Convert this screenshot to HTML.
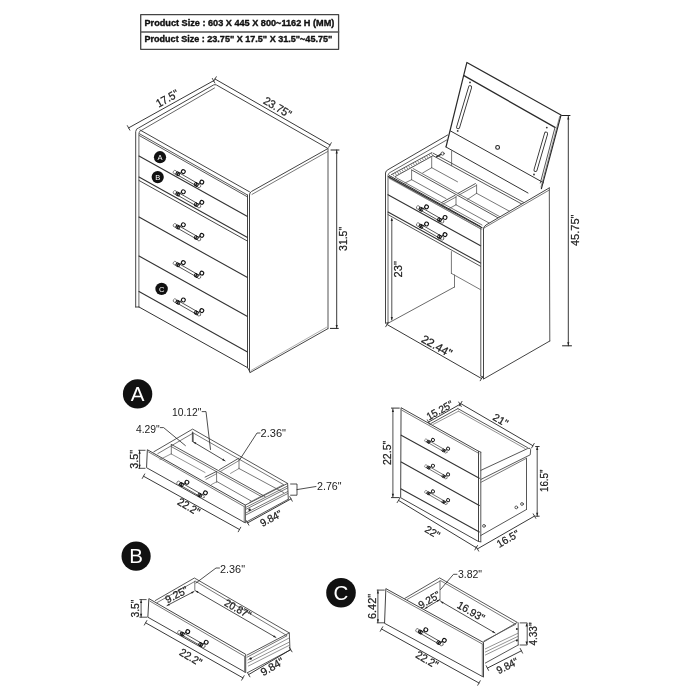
<!DOCTYPE html>
<html><head><meta charset="utf-8"><style>
html,body{margin:0;padding:0;background:#fff;}
svg{display:block;will-change:transform;}
text{font-family:"Liberation Sans",sans-serif;}
</style></head><body>
<svg width="700" height="700" viewBox="0 0 700 700" stroke-linecap="round" stroke-linejoin="round">
<defs>
<g id="hd"><g transform="rotate(29.8)">
<circle cx="-3.1" cy="0.2" r="1.8" stroke="#666" stroke-width="0.8" fill="#fff"/>
<circle cx="24.4" cy="0.2" r="1.8" stroke="#666" stroke-width="0.8" fill="#fff"/>
<line x1="0" y1="-1.35" x2="21.3" y2="-1.35" stroke="#333" stroke-width="0.75"/>
<line x1="0" y1="1.35" x2="21.3" y2="1.35" stroke="#333" stroke-width="0.75"/>
<ellipse cx="-0.6" cy="0.2" rx="1.2" ry="1.7" stroke="#111" stroke-width="0.9" fill="none"/>
<ellipse cx="0.9" cy="0.2" rx="1.2" ry="1.7" stroke="#111" stroke-width="0.9" fill="none"/>
<ellipse cx="20.7" cy="0.2" rx="1.2" ry="1.7" stroke="#111" stroke-width="0.9" fill="none"/>
<ellipse cx="22.2" cy="0.2" rx="1.2" ry="1.7" stroke="#111" stroke-width="0.9" fill="none"/>
<circle cx="3.8" cy="-4.5" r="1.9" stroke="#111" stroke-width="1.1" fill="#fff"/>
<circle cx="25.1" cy="-4.5" r="1.9" stroke="#111" stroke-width="1.1" fill="#fff"/>
<line x1="1.8" y1="-1.6" x2="2.6" y2="-3.2" stroke="#222" stroke-width="0.8"/>
<line x1="23.1" y1="-1.6" x2="23.9" y2="-3.2" stroke="#222" stroke-width="0.8"/>
</g></g>
</defs>
<rect width="700" height="700" fill="#fff"/>
<rect x="140.7" y="14.7" width="197.9" height="34.6" fill="none" stroke="#444" stroke-width="1.3"/>
<line x1="140.7" y1="32" x2="338.6" y2="32" stroke="#555" stroke-width="1.5"/>
<g stroke="#111" stroke-width="0.35">
<text x="144.5" y="25.9" font-size="8.3" text-anchor="start" font-weight="bold" fill="#111" font-family="Liberation Sans, sans-serif" textLength="189.8" lengthAdjust="spacingAndGlyphs">Product Size : 603 X 445 X 800~1162 H (MM)</text>
<text x="144.5" y="42.2" font-size="8.3" text-anchor="start" font-weight="bold" fill="#111" font-family="Liberation Sans, sans-serif" textLength="187.8" lengthAdjust="spacingAndGlyphs">Product Size : 23.75&quot; X 17.5&quot; X 31.5&quot;~45.75&quot;</text>
</g>
<line x1="128.6" y1="127.9" x2="213.6" y2="80.7" stroke="#222" stroke-width="0.9"/>
<line x1="127.34" y1="125.63" x2="129.86" y2="130.17" stroke="#333" stroke-width="0.9"/>
<line x1="212.34" y1="78.43" x2="214.86" y2="82.97" stroke="#333" stroke-width="0.9"/>
<line x1="215" y1="79" x2="330" y2="145" stroke="#222" stroke-width="0.9"/>
<line x1="216.29" y1="76.74" x2="213.71" y2="81.26" stroke="#333" stroke-width="0.9"/>
<line x1="331.29" y1="142.74" x2="328.71" y2="147.26" stroke="#333" stroke-width="0.9"/>
<text x="158.7" y="107.8" font-size="11.5" fill="#222" stroke="#222" stroke-width="0.25" font-family="Liberation Sans, sans-serif" transform="rotate(-29.33 158.7 107.8)" textLength="24.09" lengthAdjust="spacingAndGlyphs">17.5&quot;</text>
<text x="262.4" y="103" font-size="11.5" fill="#222" stroke="#222" stroke-width="0.25" font-family="Liberation Sans, sans-serif" transform="rotate(30.77 262.4 103)" textLength="30.49" lengthAdjust="spacingAndGlyphs">23.75&quot;</text>
<line x1="336.7" y1="150" x2="336.7" y2="328.4" stroke="#222" stroke-width="0.9"/>
<line x1="331" y1="150" x2="339" y2="150" stroke="#222" stroke-width="1"/>
<line x1="330.4" y1="328.4" x2="338.3" y2="328.4" stroke="#222" stroke-width="1"/>
<text x="346.9" y="250.9" font-size="11.5" fill="#222" stroke="#222" stroke-width="0.25" font-family="Liberation Sans, sans-serif" transform="rotate(-90.00 346.9 250.9)" textLength="24.00" lengthAdjust="spacingAndGlyphs">31.5&quot;</text>
<path d="M135.7,307 L135.7,131.5 Q136,128.6 138.5,128 L213.5,85 Q215,84.3 216.5,85 L328,148.5 L251.6,191.4 Q249.5,192.6 249.5,195 L249.5,372 " stroke="#444" stroke-width="1" fill="none"/>
<path d="M138.9,307 L138.9,133.4 Q139,131 141,130.6 L214.5,88" stroke="#555" stroke-width="0.9" fill="none"/>
<line x1="135.7" y1="307" x2="138.9" y2="307" stroke="#444" stroke-width="1"/>
<line x1="140" y1="130" x2="249.5" y2="191.8" stroke="#444" stroke-width="1"/>
<line x1="139.4" y1="133.7" x2="247.5" y2="195" stroke="#444" stroke-width="0.9"/>
<line x1="139.4" y1="135.6" x2="247.5" y2="196.9" stroke="#444" stroke-width="0.9"/>
<line x1="327.5" y1="151.6" x2="252" y2="194.4" stroke="#555" stroke-width="0.8"/>
<line x1="328" y1="148.5" x2="328" y2="328.7" stroke="#555" stroke-width="1"/>
<line x1="247.5" y1="195" x2="247.5" y2="367.5" stroke="#444" stroke-width="1"/>
<line x1="250.2" y1="372.5" x2="327.8" y2="328.7" stroke="#444" stroke-width="1"/>
<line x1="247.5" y1="367.5" x2="250" y2="372" stroke="#444" stroke-width="1"/>
<line x1="139" y1="156" x2="247.5" y2="216.6" stroke="#333" stroke-width="1.1"/>
<line x1="139" y1="177" x2="247.5" y2="237.6" stroke="#333" stroke-width="1.1"/>
<line x1="139" y1="180.5" x2="247.5" y2="241.1" stroke="#333" stroke-width="0.9"/>
<line x1="139" y1="217" x2="247.5" y2="277.6" stroke="#333" stroke-width="1.1"/>
<line x1="139" y1="256" x2="247.5" y2="316.6" stroke="#333" stroke-width="1.1"/>
<line x1="139" y1="291.5" x2="247.5" y2="352.1" stroke="#333" stroke-width="1.1"/>
<line x1="139" y1="307" x2="247.5" y2="367.6" stroke="#333" stroke-width="1"/>
<use href="#hd" transform="translate(177.8 173.6) scale(1.0)"/>
<use href="#hd" transform="translate(177.8 193.8) scale(1.0)"/>
<use href="#hd" transform="translate(177.8 226.8) scale(1.0)"/>
<use href="#hd" transform="translate(177.8 264.6) scale(1.0)"/>
<use href="#hd" transform="translate(177.8 302) scale(1.0)"/>
<circle cx="160" cy="157.2" r="6.1" fill="#111"/>
<text x="160" y="159.86249999999998" font-size="7.5" text-anchor="middle" fill="#fff" font-family="Liberation Sans, sans-serif">A</text>
<circle cx="157.7" cy="177.1" r="6.1" fill="#111"/>
<text x="157.7" y="179.7625" font-size="7.5" text-anchor="middle" fill="#fff" font-family="Liberation Sans, sans-serif">B</text>
<circle cx="161.6" cy="288.9" r="6.2" fill="#111"/>
<text x="161.6" y="291.5625" font-size="7.5" text-anchor="middle" fill="#fff" font-family="Liberation Sans, sans-serif">C</text>
<path d="M446,147 L466.9,62.4 L561,115 L541.4,188.6" stroke="#2a2a2a" stroke-width="1.2" fill="none"/>
<line x1="464" y1="75.6" x2="555" y2="127.4" stroke="#2a2a2a" stroke-width="1.3"/>
<line x1="450.4" y1="130.9" x2="543.5" y2="182.7" stroke="#333" stroke-width="1"/>
<line x1="446" y1="147" x2="528" y2="193" stroke="#333" stroke-width="1"/>
<path d="M555,127.4 L540.3,183" stroke="#444" stroke-width="0.9" fill="none"/>
<path d="M559.7,116.3 L541,187" stroke="#666" stroke-width="0.7" fill="none"/>
<path d="M470.1,87.2 L458.1,127.2" stroke="#333" stroke-width="4.0" fill="none"/>
<path d="M470.1,87.2 L458.1,127.2" stroke="#fff" stroke-width="2.2" fill="none"/>
<path d="M546.1,133.6 L535.5,170" stroke="#333" stroke-width="4.0" fill="none"/>
<path d="M546.1,133.6 L535.5,170" stroke="#fff" stroke-width="2.2" fill="none"/>
<circle cx="470" cy="82.4" r="0.9" fill="#333"/><circle cx="457.7" cy="130.9" r="0.9" fill="#333"/>
<circle cx="546.8" cy="127.6" r="0.9" fill="#333"/><circle cx="534" cy="174.5" r="0.9" fill="#333"/>
<circle cx="497.6" cy="147.4" r="1.9" fill="none" stroke="#222" stroke-width="1.1"/>
<path d="M385.5,323 L385.5,173 Q385.8,170.6 388,169.7 L447.6,135" stroke="#444" stroke-width="1.0" fill="none"/>
<path d="M388,323 L388,175.5 Q388.2,173.2 390,172.5 L447.7,139.4" stroke="#555" stroke-width="0.9" fill="none"/>
<line x1="385.5" y1="323" x2="388" y2="323" stroke="#444" stroke-width="1"/>
<line x1="451.6" y1="150.9" x2="451.6" y2="165.7" stroke="#555" stroke-width="0.8"/>
<line x1="389.4" y1="175.6" x2="480.5" y2="226.5" stroke="#333" stroke-width="1"/>
<line x1="389.4" y1="178" x2="480.5" y2="228.8" stroke="#555" stroke-width="0.8"/>
<line x1="388" y1="194.7" x2="480.6" y2="245.8" stroke="#333" stroke-width="1.1"/>
<line x1="388" y1="212" x2="480.6" y2="263.1" stroke="#333" stroke-width="1.1"/>
<line x1="388" y1="214.6" x2="480.6" y2="266.3" stroke="#444" stroke-width="0.9"/>
<use href="#hd" transform="translate(421 208.9) scale(1.0)"/>
<use href="#hd" transform="translate(421 226) scale(1.0)"/>
<line x1="388.4" y1="176.6" x2="482" y2="227.8" stroke="#333" stroke-width="1.2"/>
<line x1="389" y1="178.4" x2="482" y2="229.4" stroke="#777" stroke-width="0.6"/>
<line x1="395.3" y1="177.2" x2="482" y2="225" stroke="#555" stroke-width="0.8"/>
<line x1="391.4" y1="174.6" x2="431.7" y2="152.7" stroke="#444" stroke-width="0.9"/>
<line x1="395.3" y1="176.5" x2="433" y2="155.7" stroke="#444" stroke-width="0.9"/>
<line x1="392.8" y1="174.4" x2="394.1" y2="176.2" stroke="#555" stroke-width="0.7"/>
<line x1="395.06" y1="173.16" x2="396.36" y2="174.96" stroke="#555" stroke-width="0.7"/>
<line x1="397.32" y1="171.93" x2="398.62" y2="173.73" stroke="#555" stroke-width="0.7"/>
<line x1="399.58" y1="170.69" x2="400.88" y2="172.49" stroke="#555" stroke-width="0.7"/>
<line x1="401.84" y1="169.46" x2="403.14" y2="171.26" stroke="#555" stroke-width="0.7"/>
<line x1="404.09" y1="168.22" x2="405.39" y2="170.02" stroke="#555" stroke-width="0.7"/>
<line x1="406.35" y1="166.99" x2="407.65" y2="168.79" stroke="#555" stroke-width="0.7"/>
<line x1="408.61" y1="165.75" x2="409.91" y2="167.55" stroke="#555" stroke-width="0.7"/>
<line x1="410.87" y1="164.52" x2="412.17" y2="166.32" stroke="#555" stroke-width="0.7"/>
<line x1="413.13" y1="163.28" x2="414.43" y2="165.08" stroke="#555" stroke-width="0.7"/>
<line x1="415.39" y1="162.05" x2="416.69" y2="163.85" stroke="#555" stroke-width="0.7"/>
<line x1="417.65" y1="160.81" x2="418.95" y2="162.61" stroke="#555" stroke-width="0.7"/>
<line x1="419.91" y1="159.58" x2="421.21" y2="161.38" stroke="#555" stroke-width="0.7"/>
<line x1="422.16" y1="158.34" x2="423.46" y2="160.14" stroke="#555" stroke-width="0.7"/>
<line x1="424.42" y1="157.11" x2="425.72" y2="158.91" stroke="#555" stroke-width="0.7"/>
<line x1="426.68" y1="155.87" x2="427.98" y2="157.67" stroke="#555" stroke-width="0.7"/>
<line x1="428.94" y1="154.64" x2="430.24" y2="156.44" stroke="#555" stroke-width="0.7"/>
<line x1="431.2" y1="153.4" x2="432.5" y2="155.2" stroke="#555" stroke-width="0.7"/>
<line x1="433" y1="153.1" x2="535" y2="208.6" stroke="#444" stroke-width="0.9"/>
<line x1="433" y1="155.7" x2="535" y2="211.2" stroke="#444" stroke-width="0.9"/>
<line x1="431.7" y1="157.5" x2="431.7" y2="167.7" stroke="#555" stroke-width="0.8"/>
<line x1="431.7" y1="167.7" x2="457.5" y2="181.8" stroke="#555" stroke-width="0.8"/>
<line x1="422.7" y1="172.9" x2="431.7" y2="167.7" stroke="#555" stroke-width="0.8"/>
<line x1="411.6" y1="169.9" x2="520" y2="230" stroke="#444" stroke-width="0.9"/>
<line x1="413.2" y1="168.6" x2="520" y2="227.9" stroke="#555" stroke-width="0.8"/>
<line x1="411.6" y1="170.2" x2="411.6" y2="179.7" stroke="#555" stroke-width="0.8"/>
<line x1="411.6" y1="179.7" x2="446" y2="198.6" stroke="#555" stroke-width="0.8"/>
<line x1="404.7" y1="183.1" x2="411.6" y2="179.7" stroke="#555" stroke-width="0.8"/>
<line x1="456" y1="204.8" x2="500" y2="229" stroke="#555" stroke-width="0.8"/>
<line x1="441.6" y1="202.6" x2="455.2" y2="195.2" stroke="#444" stroke-width="0.9"/>
<line x1="442.8" y1="204.2" x2="456.2" y2="196.9" stroke="#555" stroke-width="0.8"/>
<line x1="456" y1="196.6" x2="456" y2="204.8" stroke="#555" stroke-width="0.8"/>
<line x1="449.5" y1="208.4" x2="456" y2="204.8" stroke="#555" stroke-width="0.8"/>
<line x1="458" y1="193.4" x2="475.4" y2="183.6" stroke="#444" stroke-width="0.9"/>
<line x1="459" y1="195" x2="476.4" y2="185.4" stroke="#555" stroke-width="0.8"/>
<line x1="476.6" y1="184.8" x2="476.6" y2="193.3" stroke="#555" stroke-width="0.8"/>
<line x1="467.6" y1="199.3" x2="476.6" y2="193.3" stroke="#555" stroke-width="0.8"/>
<line x1="476.6" y1="193.3" x2="520" y2="217" stroke="#555" stroke-width="0.8"/>
<line x1="436.5" y1="156.8" x2="442.5" y2="153.4" stroke="#333" stroke-width="1.5"/>
<circle cx="442.6" cy="153.6" r="1.6" fill="#fff" stroke="#333" stroke-width="0.8"/>
<path d="M549.3,187.9 L486,225 Q483.5,226.5 483.5,229 L483.5,379 L550,341 Z" stroke="#fff" stroke-width="0.1" fill="#fff"/>
<path d="M549.3,187.9 L486,225 Q483.5,226.5 483.5,229 L483.5,378.5" stroke="#444" stroke-width="1.0" fill="none"/>
<line x1="549.3" y1="190" x2="484" y2="228" stroke="#555" stroke-width="0.8"/>
<line x1="549.3" y1="187.9" x2="549.8" y2="341" stroke="#555" stroke-width="1"/>
<line x1="480.8" y1="228" x2="480.8" y2="376" stroke="#444" stroke-width="0.9"/>
<line x1="483.6" y1="379" x2="549.8" y2="341" stroke="#444" stroke-width="1"/>
<line x1="480.8" y1="376" x2="483.5" y2="378.5" stroke="#444" stroke-width="1"/>
<line x1="391.8" y1="219" x2="391.8" y2="320" stroke="#222" stroke-width="0.8"/>
<line x1="451.4" y1="251.6" x2="451.4" y2="273.4" stroke="#555" stroke-width="0.8"/>
<line x1="454.5" y1="275" x2="454.5" y2="287" stroke="#555" stroke-width="0.8"/>
<line x1="451.4" y1="273.4" x2="480.6" y2="289.7" stroke="#555" stroke-width="0.8"/>
<line x1="454.5" y1="287" x2="388.5" y2="323" stroke="#444" stroke-width="0.8"/>
<text x="402.1" y="277.4" font-size="11.5" fill="#222" stroke="#222" stroke-width="0.25" font-family="Liberation Sans, sans-serif" transform="rotate(-90.00 402.1 277.4)" textLength="16.30" lengthAdjust="spacingAndGlyphs">23&quot;</text>
<line x1="387" y1="324.5" x2="481.5" y2="378.5" stroke="#222" stroke-width="0.9"/>
<line x1="388.29" y1="322.24" x2="385.71" y2="326.76" stroke="#333" stroke-width="0.9"/>
<line x1="482.79" y1="376.24" x2="480.21" y2="380.76" stroke="#333" stroke-width="0.9"/>
<text x="420.5" y="341.4" font-size="11.5" fill="#222" stroke="#222" stroke-width="0.25" font-family="Liberation Sans, sans-serif" transform="rotate(29.36 420.5 341.4)" textLength="33.04" lengthAdjust="spacingAndGlyphs">22.44&quot;</text>
<line x1="568.3" y1="116" x2="568.3" y2="345.8" stroke="#222" stroke-width="0.9"/>
<line x1="561.6" y1="115.5" x2="570" y2="115.5" stroke="#222" stroke-width="1"/>
<line x1="562.5" y1="345.8" x2="571.5" y2="345.8" stroke="#222" stroke-width="1"/>
<text x="579.1" y="246" font-size="11.5" fill="#222" stroke="#222" stroke-width="0.25" font-family="Liberation Sans, sans-serif" transform="rotate(-90.00 579.1 246)" textLength="31.50" lengthAdjust="spacingAndGlyphs">45.75&quot;</text>
<circle cx="137.6" cy="393.9" r="14.7" fill="#111"/>
<text x="137.6" y="401.17749999999995" font-size="20.5" text-anchor="middle" fill="#fff" font-family="Liberation Sans, sans-serif">A</text>
<path d="M147.7,449.9 L245.3,505.1 L245.3,522.9 L146.9,467.9 Z" stroke="#444" stroke-width="1" fill="none"/>
<line x1="148.6" y1="452" x2="244.2" y2="506.6" stroke="#555" stroke-width="0.8"/>
<line x1="244.2" y1="506.6" x2="244.2" y2="522.5" stroke="#666" stroke-width="0.8"/>
<path d="M153.8,451.8 L192.6,429.1 L287.6,483.4 L245.3,505.1" stroke="#444" stroke-width="0.9" fill="none"/>
<path d="M157.8,453.6 L193.3,433 L283.6,484.6 L249.5,502.4" stroke="#555" stroke-width="0.8" fill="none"/>
<line x1="287.6" y1="483.4" x2="288.3" y2="499.2" stroke="#444" stroke-width="0.9"/>
<line x1="246" y1="522.2" x2="288.3" y2="499.2" stroke="#444" stroke-width="0.9"/>
<line x1="246" y1="507.3" x2="287.8" y2="485.9" stroke="#555" stroke-width="0.8"/>
<line x1="246" y1="509.3" x2="287.8" y2="487.9" stroke="#555" stroke-width="0.8"/>
<line x1="246" y1="512.9" x2="287.8" y2="491.5" stroke="#555" stroke-width="0.8"/>
<line x1="246" y1="514.9" x2="287.8" y2="493.5" stroke="#555" stroke-width="0.8"/>
<circle cx="249.6" cy="509.8" r="1.2" fill="#222"/>
<line x1="171.3" y1="444.4" x2="265" y2="496.5" stroke="#444" stroke-width="0.9"/>
<line x1="171.3" y1="446.6" x2="262" y2="496.9" stroke="#555" stroke-width="0.8"/>
<line x1="171.3" y1="444.4" x2="171.3" y2="454" stroke="#555" stroke-width="0.8"/>
<line x1="171.3" y1="454" x2="205" y2="472.5" stroke="#666" stroke-width="0.7"/>
<line x1="160" y1="459.5" x2="171.3" y2="453.8" stroke="#666" stroke-width="0.7"/>
<line x1="193.3" y1="433" x2="193.3" y2="441.5" stroke="#555" stroke-width="0.8"/>
<line x1="205.1" y1="477.1" x2="216.6" y2="471.4" stroke="#444" stroke-width="0.9"/>
<line x1="206" y1="479.4" x2="216.6" y2="473.7" stroke="#555" stroke-width="0.7"/>
<line x1="216.6" y1="471.4" x2="216.6" y2="482.2" stroke="#555" stroke-width="0.8"/>
<line x1="217" y1="481.6" x2="251.2" y2="501" stroke="#555" stroke-width="0.8"/>
<line x1="211.5" y1="484.5" x2="217" y2="481.6" stroke="#666" stroke-width="0.7"/>
<line x1="219.5" y1="469.6" x2="238.8" y2="458.2" stroke="#444" stroke-width="0.9"/>
<line x1="220.5" y1="471.4" x2="239" y2="460.6" stroke="#555" stroke-width="0.7"/>
<line x1="239" y1="458.6" x2="239" y2="468.5" stroke="#555" stroke-width="0.8"/>
<line x1="239" y1="468.5" x2="283.5" y2="492.5" stroke="#555" stroke-width="0.8"/>
<line x1="230.5" y1="473.4" x2="239" y2="468.5" stroke="#666" stroke-width="0.7"/>
<line x1="193.4" y1="442" x2="225.1" y2="460.9" stroke="#222" stroke-width="0.8"/>
<path d="M193.40,442.00 L196.32,442.57 L195.29,444.29 Z" fill="#222" stroke="none"/>
<path d="M225.10,460.90 L222.18,460.33 L223.21,458.61 Z" fill="#222" stroke="none"/>
<line x1="192.4" y1="432" x2="192.4" y2="441.6" stroke="#222" stroke-width="0.8"/>
<path d="M160.3,427.6 L163.6,427.6 L185.4,445.6" stroke="#222" stroke-width="0.8" fill="none"/>
<path d="M202.1,411.6 L206,411.6 L210.5,449.5" stroke="#222" stroke-width="0.8" fill="none"/>
<path d="M239.5,460 L257,433 L260,433" stroke="#222" stroke-width="0.8" fill="none"/>
<text x="171.9" y="416" font-size="10.5" text-anchor="start" font-weight="normal" fill="#222" font-family="Liberation Sans, sans-serif" textLength="29.6" lengthAdjust="spacingAndGlyphs">10.12&quot;</text>
<text x="135.9" y="433" font-size="10.5" text-anchor="start" font-weight="normal" fill="#222" font-family="Liberation Sans, sans-serif" textLength="23.8" lengthAdjust="spacingAndGlyphs">4.29&quot;</text>
<text x="260.5" y="437" font-size="10.5" text-anchor="start" font-weight="normal" fill="#222" font-family="Liberation Sans, sans-serif" textLength="25.5" lengthAdjust="spacingAndGlyphs">2.36&quot;</text>
<text x="317" y="489.6" font-size="10.5" text-anchor="start" font-weight="normal" fill="#222" font-family="Liberation Sans, sans-serif" textLength="24.6" lengthAdjust="spacingAndGlyphs">2.76&quot;</text>
<line x1="138.7" y1="450.3" x2="145.1" y2="450.3" stroke="#222" stroke-width="0.8"/>
<line x1="138.7" y1="468.3" x2="145.1" y2="468.3" stroke="#222" stroke-width="0.8"/>
<line x1="139.6" y1="450.3" x2="139.6" y2="468.3" stroke="#222" stroke-width="0.8"/>
<text x="137.9" y="468.7" font-size="11" fill="#222" stroke="#222" stroke-width="0.25" font-family="Liberation Sans, sans-serif" transform="rotate(-90.00 137.9 468.7)" textLength="18.80" lengthAdjust="spacingAndGlyphs">3.5&quot;</text>
<path d="M290.6,484 L297,484 L297,495.2 L290.6,495.2" stroke="#222" stroke-width="0.8" fill="none"/>
<line x1="297" y1="489.6" x2="316" y2="486.5" stroke="#222" stroke-width="0.8"/>
<line x1="143.5" y1="476.2" x2="239.5" y2="529.5" stroke="#222" stroke-width="0.9"/>
<line x1="144.76" y1="473.93" x2="142.24" y2="478.47" stroke="#333" stroke-width="0.9"/>
<line x1="240.76" y1="527.23" x2="238.24" y2="531.77" stroke="#333" stroke-width="0.9"/>
<text x="176.6" y="503.9" font-size="11" fill="#222" stroke="#222" stroke-width="0.25" font-family="Liberation Sans, sans-serif" transform="rotate(30.64 176.6 503.9)" textLength="23.94" lengthAdjust="spacingAndGlyphs">22.2&quot;</text>
<line x1="247.6" y1="522.9" x2="291" y2="498.9" stroke="#222" stroke-width="0.9"/>
<line x1="246.34" y1="520.62" x2="248.86" y2="525.18" stroke="#333" stroke-width="0.9"/>
<line x1="289.74" y1="496.62" x2="292.26" y2="501.18" stroke="#333" stroke-width="0.9"/>
<text x="262.4" y="527" font-size="10.5" fill="#222" stroke="#222" stroke-width="0.25" font-family="Liberation Sans, sans-serif" transform="rotate(-28.00 262.4 527)" textLength="23.22" lengthAdjust="spacingAndGlyphs">9.84&quot;</text>
<use href="#hd" transform="translate(181.4 484.3) scale(1.0)"/>
<path d="M401.4,407.9 L478.5,451.2 L478.5,541.5 L401,497.9 Z" stroke="#444" stroke-width="1" fill="none"/>
<line x1="402" y1="410.3" x2="479" y2="453.5" stroke="#555" stroke-width="0.8"/>
<line x1="401.2" y1="435.2" x2="479.3" y2="478.2" stroke="#333" stroke-width="1.1"/>
<line x1="401.2" y1="462" x2="479.3" y2="505.4" stroke="#333" stroke-width="1.1"/>
<line x1="401.2" y1="488.9" x2="479.3" y2="531.9" stroke="#333" stroke-width="1.1"/>
<line x1="480.8" y1="452.2" x2="480.8" y2="541.8" stroke="#444" stroke-width="0.9"/>
<line x1="478.5" y1="451.2" x2="480.8" y2="452.2" stroke="#444" stroke-width="0.9"/>
<line x1="478.5" y1="541.5" x2="480.8" y2="541.8" stroke="#444" stroke-width="0.9"/>
<line x1="480.8" y1="535.5" x2="526.5" y2="509.5" stroke="#444" stroke-width="0.9"/>
<line x1="526.5" y1="458.3" x2="526.5" y2="509.5" stroke="#444" stroke-width="0.9"/>
<path d="M481,470.3 L527.5,448.6 Q531,447.2 530.6,451 L530.2,454.8 L481,479.4" stroke="#444" stroke-width="0.9" fill="none"/>
<line x1="481" y1="482.3" x2="526.4" y2="458.3" stroke="#555" stroke-width="0.8"/>
<line x1="457.9" y1="408.6" x2="527.5" y2="447.6" stroke="#444" stroke-width="0.9"/>
<line x1="458.5" y1="411.2" x2="525" y2="448.5" stroke="#666" stroke-width="0.7"/>
<line x1="430.7" y1="423.6" x2="457.9" y2="408.6" stroke="#444" stroke-width="0.9"/>
<line x1="433" y1="424.5" x2="458.5" y2="411.2" stroke="#666" stroke-width="0.7"/>
<circle cx="516.3" cy="507.4" r="1.4" fill="none" stroke="#333" stroke-width="0.8"/>
<circle cx="522" cy="504" r="1.4" fill="none" stroke="#333" stroke-width="0.8"/>
<circle cx="484" cy="525.9" r="1.4" fill="none" stroke="#333" stroke-width="0.8"/>
<use href="#hd" transform="translate(428.4 441.6) scale(0.82)"/>
<use href="#hd" transform="translate(428.4 467.4) scale(0.82)"/>
<use href="#hd" transform="translate(428.4 493.1) scale(0.82)"/>
<line x1="392.9" y1="408.6" x2="392.9" y2="497.2" stroke="#222" stroke-width="0.8"/>
<line x1="391.4" y1="408.1" x2="399.3" y2="408.1" stroke="#222" stroke-width="0.9"/>
<line x1="391.4" y1="497.6" x2="399.3" y2="497.6" stroke="#222" stroke-width="0.9"/>
<text x="390.7" y="465" font-size="11" fill="#222" stroke="#222" stroke-width="0.25" font-family="Liberation Sans, sans-serif" transform="rotate(-90.00 390.7 465)" textLength="24.30" lengthAdjust="spacingAndGlyphs">22.5&quot;</text>
<line x1="428.6" y1="422.1" x2="460" y2="404.3" stroke="#222" stroke-width="0.9"/>
<line x1="427.32" y1="419.84" x2="429.88" y2="424.36" stroke="#333" stroke-width="0.9"/>
<line x1="458.72" y1="402.04" x2="461.28" y2="406.56" stroke="#333" stroke-width="0.9"/>
<text x="429" y="420.5" font-size="10.5" fill="#222" stroke="#222" stroke-width="0.25" font-family="Liberation Sans, sans-serif" transform="rotate(-29.42 429 420.5)" textLength="28.70" lengthAdjust="spacingAndGlyphs">15.25&quot;</text>
<line x1="460.7" y1="403.6" x2="532.9" y2="445.7" stroke="#222" stroke-width="0.9"/>
<line x1="462.01" y1="401.35" x2="459.39" y2="405.85" stroke="#333" stroke-width="0.9"/>
<line x1="534.21" y1="443.45" x2="531.59" y2="447.95" stroke="#333" stroke-width="0.9"/>
<text x="492.1" y="419.3" font-size="10.5" fill="#222" stroke="#222" stroke-width="0.25" font-family="Liberation Sans, sans-serif" transform="rotate(30.39 492.1 419.3)" textLength="15.42" lengthAdjust="spacingAndGlyphs">21&quot;</text>
<line x1="537.2" y1="446.5" x2="537.2" y2="516.2" stroke="#222" stroke-width="0.8"/>
<line x1="535.6" y1="446.5" x2="539.2" y2="446.5" stroke="#222" stroke-width="0.9"/>
<line x1="535.6" y1="516.2" x2="539.2" y2="516.2" stroke="#222" stroke-width="0.9"/>
<text x="547.5" y="492" font-size="11" fill="#222" stroke="#222" stroke-width="0.25" font-family="Liberation Sans, sans-serif" transform="rotate(-90.00 547.5 492)" textLength="22.50" lengthAdjust="spacingAndGlyphs">16.5&quot;</text>
<line x1="398.5" y1="500.4" x2="476.2" y2="547.7" stroke="#222" stroke-width="0.9"/>
<line x1="399.85" y1="498.18" x2="397.15" y2="502.62" stroke="#333" stroke-width="0.9"/>
<line x1="477.55" y1="545.48" x2="474.85" y2="549.92" stroke="#333" stroke-width="0.9"/>
<text x="423.9" y="531.2" font-size="10.5" fill="#222" stroke="#222" stroke-width="0.25" font-family="Liberation Sans, sans-serif" transform="rotate(31.22 423.9 531.2)" textLength="15.44" lengthAdjust="spacingAndGlyphs">22&quot;</text>
<line x1="477.4" y1="548.9" x2="534.5" y2="516.1" stroke="#222" stroke-width="0.9"/>
<line x1="476.1" y1="546.65" x2="478.7" y2="551.15" stroke="#333" stroke-width="0.9"/>
<line x1="533.2" y1="513.85" x2="535.8" y2="518.35" stroke="#333" stroke-width="0.9"/>
<text x="499.3" y="547.9" font-size="10.5" fill="#222" stroke="#222" stroke-width="0.25" font-family="Liberation Sans, sans-serif" transform="rotate(-29.98 499.3 547.9)" textLength="24.01" lengthAdjust="spacingAndGlyphs">16.5&quot;</text>
<circle cx="136.1" cy="556.1" r="14.6" fill="#111"/>
<text x="136.1" y="563.3775" font-size="20.5" text-anchor="middle" fill="#fff" font-family="Liberation Sans, sans-serif">B</text>
<path d="M149.2,598.8 L245.7,654.3 L245.7,672.5 L148.2,617.4 Z" stroke="#444" stroke-width="1" fill="none"/>
<line x1="150" y1="601.2" x2="244.5" y2="656.3" stroke="#555" stroke-width="0.8"/>
<line x1="244.5" y1="656.3" x2="244.5" y2="672" stroke="#666" stroke-width="0.8"/>
<path d="M155.4,600.5 L194.4,578 L289.3,632.9 L247.1,655" stroke="#444" stroke-width="0.9" fill="none"/>
<path d="M157,602.6 L195.3,581.2 L287.1,635.7 L247.1,657.2" stroke="#555" stroke-width="0.8" fill="none"/>
<line x1="194.8" y1="581.2" x2="194.8" y2="590.2" stroke="#555" stroke-width="0.8"/>
<line x1="289.3" y1="632.9" x2="290" y2="650" stroke="#444" stroke-width="0.9"/>
<line x1="248.2" y1="672.3" x2="290" y2="650" stroke="#444" stroke-width="0.9"/>
<line x1="247.9" y1="660" x2="289.3" y2="637.9" stroke="#666" stroke-width="0.7"/>
<line x1="247.9" y1="662.9" x2="289.3" y2="642.1" stroke="#666" stroke-width="0.7"/>
<line x1="248.4" y1="666" x2="289.5" y2="645.2" stroke="#666" stroke-width="0.7"/>
<circle cx="250.7" cy="658.6" r="1.2" fill="#222"/>
<line x1="167" y1="605.6" x2="194" y2="591.5" stroke="#222" stroke-width="0.8"/>
<path d="M167.00,605.60 L169.02,603.42 L169.94,605.19 Z" fill="#222" stroke="none"/>
<path d="M194.00,591.50 L191.98,593.68 L191.06,591.91 Z" fill="#222" stroke="none"/>
<line x1="195.5" y1="590.8" x2="276" y2="637.5" stroke="#222" stroke-width="0.8"/>
<path d="M276.00,637.50 L273.08,636.96 L274.08,635.23 Z" fill="#222" stroke="none"/>
<path d="M195.50,590.80 L198.42,591.34 L197.42,593.07 Z" fill="#222" stroke="none"/>
<text x="167.6" y="603.4" font-size="10.5" fill="#222" stroke="#222" stroke-width="0.25" font-family="Liberation Sans, sans-serif" transform="rotate(-27.53 167.6 603.4)" textLength="24.02" lengthAdjust="spacingAndGlyphs">9.25&quot;</text>
<text x="223.5" y="605.1" font-size="10.5" fill="#222" stroke="#222" stroke-width="0.25" font-family="Liberation Sans, sans-serif" transform="rotate(28.90 223.5 605.1)" textLength="28.56" lengthAdjust="spacingAndGlyphs">20.87&quot;</text>
<path d="M196,583 L216,568 L219.5,568" stroke="#222" stroke-width="0.8" fill="none"/>
<text x="220" y="572.5" font-size="11" text-anchor="start" font-weight="normal" fill="#222" font-family="Liberation Sans, sans-serif" textLength="25" lengthAdjust="spacingAndGlyphs">2.36&quot;</text>
<line x1="139.8" y1="599.6" x2="146.2" y2="599.6" stroke="#222" stroke-width="0.8"/>
<line x1="139.8" y1="617.2" x2="146.9" y2="617.2" stroke="#222" stroke-width="0.8"/>
<line x1="141.1" y1="599.6" x2="141.1" y2="617.2" stroke="#222" stroke-width="0.8"/>
<text x="139.1" y="617.6" font-size="11" fill="#222" stroke="#222" stroke-width="0.25" font-family="Liberation Sans, sans-serif" transform="rotate(-90.00 139.1 617.6)" textLength="18.00" lengthAdjust="spacingAndGlyphs">3.5&quot;</text>
<line x1="145.6" y1="622.8" x2="242.9" y2="677.9" stroke="#222" stroke-width="0.9"/>
<line x1="146.88" y1="620.54" x2="144.32" y2="625.06" stroke="#333" stroke-width="0.9"/>
<line x1="244.18" y1="675.64" x2="241.62" y2="680.16" stroke="#333" stroke-width="0.9"/>
<text x="178.5" y="654.5" font-size="11" fill="#222" stroke="#222" stroke-width="0.25" font-family="Liberation Sans, sans-serif" transform="rotate(29.98 178.5 654.5)" textLength="24.01" lengthAdjust="spacingAndGlyphs">22.2&quot;</text>
<line x1="248.6" y1="674.6" x2="290.7" y2="649.6" stroke="#222" stroke-width="0.9"/>
<line x1="247.27" y1="672.36" x2="249.93" y2="676.84" stroke="#333" stroke-width="0.9"/>
<line x1="289.37" y1="647.36" x2="292.03" y2="651.84" stroke="#333" stroke-width="0.9"/>
<text x="263.2" y="676.2" font-size="10.8" fill="#222" stroke="#222" stroke-width="0.25" font-family="Liberation Sans, sans-serif" transform="rotate(-30.03 263.2 676.2)" textLength="25.18" lengthAdjust="spacingAndGlyphs">9.84&quot;</text>
<use href="#hd" transform="translate(182.2 633.7) scale(1.0)"/>
<circle cx="341" cy="592.8" r="14.8" fill="#111"/>
<text x="341" y="600.0775" font-size="20.5" text-anchor="middle" fill="#fff" font-family="Liberation Sans, sans-serif">C</text>
<path d="M386.2,588.8 L483.5,642.5 L483.5,677.1 L384.9,623.5 Z" stroke="#444" stroke-width="1" fill="none"/>
<line x1="387" y1="591.3" x2="482.3" y2="644" stroke="#555" stroke-width="0.8"/>
<line x1="482.3" y1="644" x2="482.3" y2="676.5" stroke="#666" stroke-width="0.8"/>
<path d="M404.8,598.4 L439.6,577.9 L517.3,622.4 L483.5,642" stroke="#444" stroke-width="0.9" fill="none"/>
<path d="M407.4,599.3 L440.7,580.7 L515.7,624.3 L484,641" stroke="#555" stroke-width="0.8" fill="none"/>
<line x1="440" y1="580.7" x2="440" y2="600.7" stroke="#555" stroke-width="0.8"/>
<line x1="518.2" y1="622.8" x2="518.2" y2="645" stroke="#444" stroke-width="0.9"/>
<line x1="485.4" y1="663" x2="518.2" y2="645" stroke="#444" stroke-width="0.9"/>
<line x1="485.4" y1="648.8" x2="517.6" y2="633.4" stroke="#666" stroke-width="0.7"/>
<line x1="485.4" y1="652" x2="517.6" y2="636.5" stroke="#666" stroke-width="0.7"/>
<line x1="485.4" y1="655" x2="517.6" y2="639.4" stroke="#666" stroke-width="0.7"/>
<circle cx="516.9" cy="628.9" r="1" fill="#222"/><circle cx="516.9" cy="640.5" r="1" fill="#222"/>
<line x1="424.8" y1="608.7" x2="439.6" y2="599.7" stroke="#222" stroke-width="0.8"/>
<path d="M424.80,608.70 L426.67,606.39 L427.71,608.10 Z" fill="#222" stroke="none"/>
<path d="M439.60,599.70 L437.73,602.01 L436.69,600.30 Z" fill="#222" stroke="none"/>
<line x1="440.7" y1="601.4" x2="495" y2="632.9" stroke="#222" stroke-width="0.8"/>
<path d="M440.70,601.40 L443.62,601.94 L442.62,603.67 Z" fill="#222" stroke="none"/>
<path d="M495.00,632.90 L492.08,632.36 L493.08,630.63 Z" fill="#222" stroke="none"/>
<text x="421" y="609" font-size="10.5" fill="#222" stroke="#222" stroke-width="0.25" font-family="Liberation Sans, sans-serif" transform="rotate(-30.71 421 609)" textLength="23.50" lengthAdjust="spacingAndGlyphs">9.25&quot;</text>
<text x="456.2" y="607.2" font-size="10.8" fill="#222" stroke="#222" stroke-width="0.25" font-family="Liberation Sans, sans-serif" transform="rotate(29.84 456.2 607.2)" textLength="29.74" lengthAdjust="spacingAndGlyphs">16.93&quot;</text>
<path d="M440.5,589.5 L453.5,574.3 L457,574.3" stroke="#222" stroke-width="0.8" fill="none"/>
<text x="457.9" y="578.3" font-size="11" text-anchor="start" font-weight="normal" fill="#222" font-family="Liberation Sans, sans-serif" textLength="24.2" lengthAdjust="spacingAndGlyphs">3.82&quot;</text>
<line x1="377.2" y1="590.1" x2="384.3" y2="590.1" stroke="#222" stroke-width="0.8"/>
<line x1="377.2" y1="622.8" x2="384.3" y2="622.8" stroke="#222" stroke-width="0.8"/>
<line x1="377.9" y1="590.1" x2="377.9" y2="622.8" stroke="#222" stroke-width="0.8"/>
<text x="375.9" y="619" font-size="11" fill="#222" stroke="#222" stroke-width="0.25" font-family="Liberation Sans, sans-serif" transform="rotate(-90.00 375.9 619)" textLength="25.10" lengthAdjust="spacingAndGlyphs">6.42&quot;</text>
<path d="M520.1,622.9 L527.2,622.9 L527.2,645 L520.1,645" stroke="#222" stroke-width="0.8" fill="none"/>
<text x="536.8" y="645.6" font-size="11" fill="#222" stroke="#222" stroke-width="0.25" font-family="Liberation Sans, sans-serif" transform="rotate(-90.00 536.8 645.6)" textLength="23.10" lengthAdjust="spacingAndGlyphs">4.33&quot;</text>
<line x1="381.5" y1="629" x2="479" y2="683" stroke="#222" stroke-width="0.9"/>
<line x1="382.76" y1="626.73" x2="380.24" y2="631.27" stroke="#333" stroke-width="0.9"/>
<line x1="480.26" y1="680.73" x2="477.74" y2="685.27" stroke="#333" stroke-width="0.9"/>
<text x="414.7" y="657" font-size="11" fill="#222" stroke="#222" stroke-width="0.25" font-family="Liberation Sans, sans-serif" transform="rotate(29.98 414.7 657)" textLength="24.01" lengthAdjust="spacingAndGlyphs">22.2&quot;</text>
<line x1="487.4" y1="668.1" x2="521.4" y2="650.8" stroke="#222" stroke-width="0.9"/>
<line x1="486.22" y1="665.78" x2="488.58" y2="670.42" stroke="#333" stroke-width="0.9"/>
<line x1="520.22" y1="648.48" x2="522.58" y2="653.12" stroke="#333" stroke-width="0.9"/>
<text x="498.8" y="674.2" font-size="10.5" fill="#222" stroke="#222" stroke-width="0.25" font-family="Liberation Sans, sans-serif" transform="rotate(-27.01 498.8 674.2)" textLength="22.90" lengthAdjust="spacingAndGlyphs">9.84&quot;</text>
<use href="#hd" transform="translate(420.3 631.8) scale(1.0)"/>
<path d="M336.70,150.30 L337.80,153.50 L335.60,153.50 Z" fill="#222" stroke="none"/>
<path d="M336.70,328.10 L335.60,324.90 L337.80,324.90 Z" fill="#222" stroke="none"/>
<path d="M568.30,116.30 L569.40,119.50 L567.20,119.50 Z" fill="#222" stroke="none"/>
<path d="M568.30,345.50 L567.20,342.30 L569.40,342.30 Z" fill="#222" stroke="none"/>
<path d="M392.90,408.90 L394.00,412.10 L391.80,412.10 Z" fill="#222" stroke="none"/>
<path d="M392.90,496.90 L391.80,493.70 L394.00,493.70 Z" fill="#222" stroke="none"/>
<path d="M537.20,446.80 L538.30,450.00 L536.10,450.00 Z" fill="#222" stroke="none"/>
<path d="M537.20,515.90 L536.10,512.70 L538.30,512.70 Z" fill="#222" stroke="none"/>
<path d="M139.60,450.60 L140.70,453.80 L138.50,453.80 Z" fill="#222" stroke="none"/>
<path d="M139.60,468.00 L138.50,464.80 L140.70,464.80 Z" fill="#222" stroke="none"/>
<path d="M141.10,599.90 L142.20,603.10 L140.00,603.10 Z" fill="#222" stroke="none"/>
<path d="M141.10,616.90 L140.00,613.70 L142.20,613.70 Z" fill="#222" stroke="none"/>
<path d="M377.90,590.40 L379.00,593.60 L376.80,593.60 Z" fill="#222" stroke="none"/>
<path d="M377.90,622.50 L376.80,619.30 L379.00,619.30 Z" fill="#222" stroke="none"/>
<path d="M526.60,623.20 L527.70,626.40 L525.50,626.40 Z" fill="#222" stroke="none"/>
<path d="M526.60,644.70 L525.50,641.50 L527.70,641.50 Z" fill="#222" stroke="none"/>
<path d="M391.80,217.80 L392.90,221.00 L390.70,221.00 Z" fill="#222" stroke="none"/>
<path d="M391.80,320.20 L390.70,317.00 L392.90,317.00 Z" fill="#222" stroke="none"/>
<line x1="251" y1="370.5" x2="326.5" y2="327.3" stroke="#777" stroke-width="0.6"/>
</svg>
</body></html>
